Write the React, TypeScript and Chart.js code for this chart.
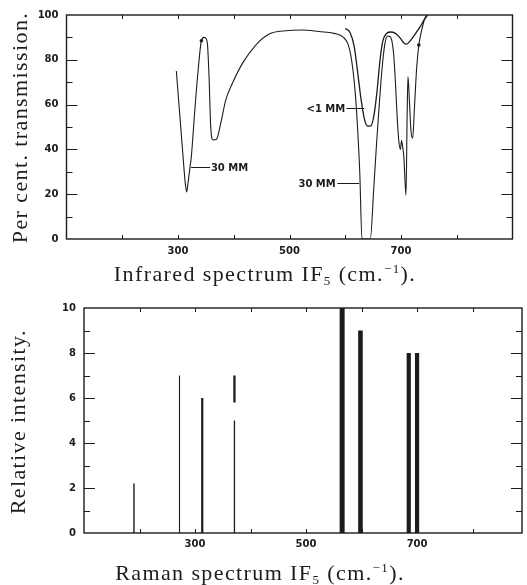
import React, { useEffect, useRef } from "react";
import { Chart, registerables } from "chart.js";

Chart.register(...registerables);

// ---------- Infrared spectrum data ----------
const irWave30 = [
  297, 303, 309, 313, 315.6, 318, 321, 324, 330, 336, 342, 346.7, 350, 352.7, 355.7, 358.7, 362.9, 368.9,
  376.6, 385.6, 397.6, 415.6, 439.5, 463.5, 493.4, 523, 553, 580, 597, 605, 610, 614, 618, 622, 626, 630,
  645, 651, 656, 661, 666, 671, 676, 680, 684, 687, 690, 693, 696, 699, 701, 703, 705, 709, 711, 712.5,
  715, 718, 721, 724, 728, 732, 737, 742, 746,
];
const irTrans30 = [
  75, 56, 37, 25, 21, 25, 31, 37, 57, 75, 88.5, 90, 89.5, 87.4, 72.5, 50, 44.2, 44.5,
  51.6, 62, 69.5, 78.4, 86.6, 91.5, 93, 93.3, 92.6, 91.8, 90, 87, 82, 75, 65, 50, 30, 0,
  0, 22, 42, 60, 76, 87, 90.6, 90.4, 88, 82, 70, 55, 44, 40, 44, 41, 37, 19.6, 55, 72.5,
  62, 48, 45, 58, 76, 86.6, 93, 98, 100,
];
const irWave1 = [600, 609, 616, 622, 628, 634, 640, 646, 652, 657, 662, 667, 673, 681, 690, 699, 705, 710, 715, 724, 735, 742, 748];
const irTrans1 = [94, 92, 86, 75, 63, 54, 50.4, 50.5, 56, 66, 79, 88, 91.5, 92.4, 91.8, 89.6, 87.5, 87, 88, 91, 95, 98, 100];
const irDotWave = [342, 732];
const irDotTrans = [88.5, 86.6];

const irXTicks = [200, 300, 400, 500, 600, 700, 800];
const irXLabels = [300, 500, 700];
const irYTicks = [10, 20, 30, 40, 50, 60, 70, 80, 90];
const irYLabels = [0, 20, 40, 60, 80, 100];

const irNoteText = ["30 MM", "<1 MM", "30 MM"];
const irNoteWave = [359, 600, 583];
const irNoteTrans = [32.3, 58.3, 24.9];
const irNoteLeaderFrom = [323.5, 602, 586];
const irNoteLeaderTo = [357.6, 634, 625];
const irNoteAlign: CanvasTextAlign[] = ["left", "right", "right"];

// ---------- Raman spectrum data ----------
const ramanWave = [190, 272, 313, 371, 565, 598, 685, 700];
const ramanIntensity = [2.2, 7, 6, 7, 10, 9, 8, 8];
const ramanGapLow = [null, null, null, 5.0, null, null, null, null];
const ramanGapHigh = [null, null, null, 5.8, null, null, null, null];
const ramanXTicks = [200, 300, 400, 500, 600, 700, 800];
const ramanXLabels = [300, 500, 700];
const ramanYTicks = [1, 2, 3, 4, 5, 6, 7, 8, 9];
const ramanYLabels = [0, 2, 4, 6, 8, 10];

// ---------- titles ----------
type Seg = { t: string; sub?: boolean; sup?: boolean };
const irXTitle: Seg[] = [{ t: "Infrared spectrum IF" }, { t: "5", sub: true }, { t: " (cm." }, { t: "−1", sup: true }, { t: ")." }];
const irYTitle = "Per cent. transmission.";
const ramanXTitle: Seg[] = [{ t: "Raman spectrum IF" }, { t: "5", sub: true }, { t: " (cm." }, { t: "−1", sup: true }, { t: ")." }];
const ramanYTitle = "Relative intensity.";

// ---------- styles ----------
const INK = "#1c1c1c";
const SERIF = '"Liberation Serif", "DejaVu Serif", serif';
const TICKFONT = { family: '"DejaVu Sans", sans-serif', size: 10, weight: "bold" as const };
const TITLE_SIZE = 22;
const ramanWidths = [1.4, 1.1, 2.2, 2.3, 5, 4.6, 4.2, 4.2];

function drawRich(ctx: CanvasRenderingContext2D, segs: Seg[], cx: number, base: number) {
  ctx.save();
  (ctx as any).letterSpacing = "1.4px";
  ctx.fillStyle = INK;
  ctx.textAlign = "left";
  ctx.textBaseline = "alphabetic";
  const fontFor = (s: Seg) => `${s.sub || s.sup ? Math.round(TITLE_SIZE * 0.6) : TITLE_SIZE}px ${SERIF}`;
  let w = 0;
  for (const s of segs) {
    ctx.font = fontFor(s);
    w += ctx.measureText(s.t).width;
  }
  let x = cx - w / 2;
  for (const s of segs) {
    ctx.font = fontFor(s);
    const dy = s.sub ? 4 : s.sup ? -8 : 0;
    ctx.fillText(s.t, x, base + dy);
    x += ctx.measureText(s.t).width;
  }
  ctx.restore();
}

function drawRotated(ctx: CanvasRenderingContext2D, text: string, x: number, cy: number) {
  ctx.save();
  (ctx as any).letterSpacing = "1.4px";
  ctx.translate(x, cy);
  ctx.rotate(-Math.PI / 2);
  ctx.font = `${TITLE_SIZE}px ${SERIF}`;
  ctx.fillStyle = INK;
  ctx.textAlign = "center";
  ctx.textBaseline = "alphabetic";
  ctx.fillText(text, 0, 0);
  ctx.restore();
}

interface FrameCfg {
  xTicks: number[];
  yTicks: number[];
  yLabels: number[];
  xTitle: Seg[];
  xTitleX: number;
  xTitleBase: number;
  yTitle: string;
  yTitleX: number;
  yTitleY: number;
  notes?: boolean;
}

function framePlugin(cfg: FrameCfg) {
  return {
    id: "frameTicks",
    afterDraw(chart: any) {
      const ctx: CanvasRenderingContext2D = chart.ctx;
      const { left, right, top, bottom } = chart.chartArea;
      const xs = chart.scales.x;
      const ys = chart.scales.y;
      ctx.save();
      ctx.strokeStyle = INK;
      ctx.lineWidth = 1.4;
      ctx.strokeRect(left, top, right - left, bottom - top);
      ctx.lineWidth = 1;
      ctx.beginPath();
      for (const v of cfg.xTicks) {
        const px = Math.round(xs.getPixelForValue(v)) + 0.5;
        ctx.moveTo(px, bottom);
        ctx.lineTo(px, bottom - 4);
        ctx.moveTo(px, top);
        ctx.lineTo(px, top + 4);
      }
      for (const v of cfg.yTicks) {
        const py = Math.round(ys.getPixelForValue(v)) + 0.5;
        const len = cfg.yLabels.includes(v) ? 11 : 6;
        ctx.moveTo(left, py);
        ctx.lineTo(left + len, py);
        ctx.moveTo(right, py);
        ctx.lineTo(right - len, py);
      }
      ctx.stroke();

      if (cfg.notes) {
        ctx.font = 'bold 10px "DejaVu Sans", sans-serif';
        ctx.fillStyle = INK;
        ctx.textBaseline = "middle";
        ctx.beginPath();
        for (let i = 0; i < irNoteText.length; i++) {
          const py = Math.round(ys.getPixelForValue(irNoteTrans[i])) + 0.5;
          ctx.moveTo(xs.getPixelForValue(irNoteLeaderFrom[i]), py);
          ctx.lineTo(xs.getPixelForValue(irNoteLeaderTo[i]), py);
          ctx.textAlign = irNoteAlign[i];
          ctx.fillText(irNoteText[i], xs.getPixelForValue(irNoteWave[i]), py + 0.5);
        }
        ctx.stroke();
      }
      ctx.restore();

      drawRich(ctx, cfg.xTitle, cfg.xTitleX, cfg.xTitleBase);
      drawRotated(ctx, cfg.yTitle, cfg.yTitleX, cfg.yTitleY);
    },
  };
}

function axisOptions(
  xMin: number,
  xMax: number,
  xLabels: number[],
  yMax: number,
  yStep: number,
  yLabels: number[],
  xPad: number,
  leftW: number,
  bottomH: number
) {
  return {
    x: {
      type: "linear" as const,
      min: xMin,
      max: xMax,
      afterFit: (s: any) => {
        s.height = bottomH;
      },
      grid: { display: false, drawTicks: false },
      border: { display: false },
      ticks: {
        stepSize: 100,
        autoSkip: false,
        maxRotation: 0,
        padding: xPad,
        color: INK,
        font: TICKFONT,
        callback: (v: any) => (xLabels.includes(Number(v)) ? String(v) : ""),
      },
    },
    y: {
      type: "linear" as const,
      min: 0,
      max: yMax,
      afterFit: (s: any) => {
        s.width = leftW;
      },
      grid: { display: false, drawTicks: false },
      border: { display: false },
      ticks: {
        stepSize: yStep,
        autoSkip: false,
        padding: 8,
        color: INK,
        font: TICKFONT,
        callback: (v: any) => (yLabels.includes(Number(v)) ? String(v) : ""),
      },
    },
  };
}

function buildIR(): any {
  const curve = (xs: number[], ys: number[]) => xs.map((x, i) => ({ x, y: ys[i] }));
  return {
    type: "line",
    data: {
      datasets: [
        {
          data: curve(irWave30, irTrans30),
          borderColor: INK,
          borderWidth: 1.1,
          pointRadius: 0,
          cubicInterpolationMode: "monotone",
          fill: false,
        },
        {
          data: curve(irWave1, irTrans1),
          borderColor: INK,
          borderWidth: 1.3,
          pointRadius: 0,
          cubicInterpolationMode: "monotone",
          fill: false,
        },
        {
          data: curve(irDotWave, irDotTrans),
          showLine: false,
          pointRadius: 1.8,
          pointBackgroundColor: INK,
          pointBorderWidth: 0,
        },
      ],
    },
    options: {
      responsive: false,
      animation: false,
      events: [],
      layout: { padding: { left: 0, right: 14.5, top: 15, bottom: 0 } },
      plugins: { legend: { display: false }, tooltip: { enabled: false } },
      scales: axisOptions(100, 900, irXLabels, 100, 10, irYLabels, 6, 66.5, 51),
    },
    plugins: [
      framePlugin({
        xTicks: irXTicks,
        yTicks: irYTicks,
        yLabels: irYLabels,
        xTitle: irXTitle,
        xTitleX: 265,
        xTitleBase: 281,
        yTitle: irYTitle,
        yTitleX: 27,
        yTitleY: 127.5,
        notes: true,
      }),
    ],
  };
}

function buildRaman(): any {
  const datasets: any[] = [];
  ramanWave.forEach((w, i) => {
    const lo = ramanGapLow[i];
    const hi = ramanGapHigh[i];
    const pieces: [number, number][] =
      lo !== null && hi !== null ? [[0, lo], [hi, ramanIntensity[i]]] : [[0, ramanIntensity[i]]];
    pieces.forEach(([a, b], k) => {
      datasets.push({
        data: [
          { x: w, y: a },
          { x: w, y: b },
        ],
        borderColor: INK,
        borderWidth: pieces.length > 1 && k === 0 ? 1.3 : ramanWidths[i],
        borderCapStyle: "butt",
        pointRadius: 0,
        fill: false,
      });
    });
  });
  return {
    type: "line",
    data: { datasets },
    options: {
      responsive: false,
      animation: false,
      events: [],
      layout: { padding: { left: 0, right: 3, top: 18, bottom: 0 } },
      plugins: { legend: { display: false }, tooltip: { enabled: false } },
      scales: axisOptions(100, 889, ramanXLabels, 10, 1, ramanYLabels, 5, 84, 52),
    },
    plugins: [
      framePlugin({
        xTicks: ramanXTicks,
        yTicks: ramanYTicks,
        yLabels: ramanYLabels,
        xTitle: ramanXTitle,
        xTitleX: 260,
        xTitleBase: 290,
        yTitle: ramanYTitle,
        yTitleX: 25,
        yTitleY: 131.7,
      }),
    ],
  };
}

export default function App() {
  const topRef = useRef<HTMLCanvasElement>(null);
  const botRef = useRef<HTMLCanvasElement>(null);
  useEffect(() => {
    const c1 = new Chart(topRef.current as HTMLCanvasElement, buildIR());
    const c2 = new Chart(botRef.current as HTMLCanvasElement, buildRaman());
    return () => {
      c1.destroy();
      c2.destroy();
    };
  }, []);
  return (
    <div style={{ position: "fixed", left: 0, top: 0, width: 527, height: 585, background: "#fff" }}>
      <canvas ref={topRef} width={527} height={290} style={{ position: "absolute", left: 0, top: 0, width: 527, height: 290 }} />
      <canvas ref={botRef} width={527} height={295} style={{ position: "absolute", left: 0, top: 290, width: 527, height: 295 }} />
    </div>
  );
}
